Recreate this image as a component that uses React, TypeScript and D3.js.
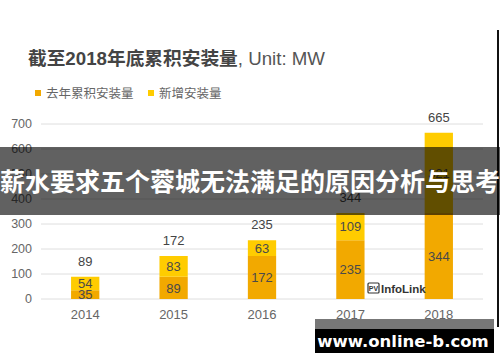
import React from "react";
import * as d3 from "d3";

const years = ["2014", "2015", "2016", "2017", "2018"];
const prevTotal = [35, 89, 172, 235, 344];
const added = [54, 83, 63, 109, 321];
const yTicks = [0, 100, 200, 300, 400, 500, 600, 700];

const legendItems = [
  { label: "去年累积安装量", color: "#F2A900" },
  { label: "新增安装量", color: "#FFCC00" }
];

const font = "'Liberation Sans', Arial, 'Noto Sans CJK SC', sans-serif";

function App() {
  const w = 500,
    h = 362,
    left = 41,
    right = 483;

  const x = d3.scaleBand()
    .domain(years)
    .range([left, right])
    .paddingInner(0.68)
    .paddingOuter(0.34);

  const y = d3.scaleLinear()
    .domain([0, 700])
    .range([299, 124]);

  const data = years.map((yr, i) => ({
    year: yr,
    prev: prevTotal[i],
    add: added[i],
    total: prevTotal[i] + added[i]
  }));

  const grid = yTicks.map((t, i) => (
    <g key={i}>
      <line x1={left} x2={right} y1={y(t)} y2={y(t)} stroke="#dedede" strokeWidth={1} />
      <text x={32} y={y(t)} dy=".35em" textAnchor="end" fontSize={12.5} fill="#666">{t}</text>
    </g>
  ));

  const bars = data.map((d, i) => {
    const bx = x(d.year) as number;
    const bw = x.bandwidth();
    const cx = bx + bw / 2;
    return (
      <g key={i}>
        <rect x={bx} y={y(d.prev)} width={bw} height={y(0) - y(d.prev)} fill="#F2A900" />
        <rect x={bx} y={y(d.total)} width={bw} height={y(d.prev) - y(d.total)} fill="#FFCC00" />
        <text x={cx} y={(y(0) + y(d.prev)) / 2} dy=".36em" textAnchor="middle" fontSize={13} fill="#4a4a4a">{d.prev}</text>
        <text x={cx} y={(y(d.prev) + y(d.total)) / 2} dy=".36em" textAnchor="middle" fontSize={13} fill="#4a4a4a">{d.add}</text>
        <text x={cx} y={y(d.total) - 11} textAnchor="middle" fontSize={13} fill="#444">{d.total}</text>
        <text x={cx} y={319} textAnchor="middle" fontSize={13} fill="#666">{d.year}</text>
      </g>
    );
  });

  const legend = legendItems.map((l, i) => {
    const lx = i === 0 ? 35 : 148;
    return (
      <g key={i}>
        <rect x={lx} y={90} width={6} height={6} fill={l.color} />
        <text x={lx + 11} y={93} dy=".36em" fontSize={12.5} fill="#666">{l.label}</text>
      </g>
    );
  });

  return (
    <div style={{ position: "absolute", left: 0, top: 0 }}>
      <svg width={w} height={h} style={{ display: "block", fontFamily: font }}>
        <rect width={w} height={h} fill="#fff" />
        <text x={28} y={65} fontSize={18.7} fontWeight="bold" fill="#444">
          截至2018年底累积安装量
          <tspan fontWeight="normal" fill="#555">, Unit: MW</tspan>
        </text>
        {legend}
        {grid}
        {bars}
        <g>
          <rect x={368} y={283} width={11} height={10} fill="none" stroke="#333" strokeWidth={1.2} rx={1} />
          <text x={373.5} y={291} textAnchor="middle" fontSize={7} fontWeight="bold" fill="#333">PV</text>
          <text x={381} y={293} fontSize={11.5} fontWeight="bold" fill="#333">InfoLink</text>
        </g>
        <line x1={498} x2={498} y1={30} y2={327} stroke="#111" strokeWidth={2} />
        <rect x={0} y={147} width={w} height={68} fill="rgba(0,0,0,0.62)" />
        <text x={250} y={182} dy=".36em" textAnchor="middle" fontSize={25} fontWeight="bold" fill="#fff"
          style={{ fontFamily: "'Noto Sans CJK SC', sans-serif" }}>
          薪水要求五个蓉城无法满足的原因分析与思考
        </text>
        <rect x={315} y={319} width={179} height={10} fill="#777" />
        <rect x={315} y={329} width={179} height={24} fill="#000" />
        <text x={403} y={341} dy=".36em" textAnchor="middle" fontSize={16.5} fontWeight="bold" fill="#fff"
          style={{ fontFamily: "'DejaVu Sans', sans-serif" }}>
          www.online-b.com
        </text>
      </svg>
    </div>
  );
}

export default App;
